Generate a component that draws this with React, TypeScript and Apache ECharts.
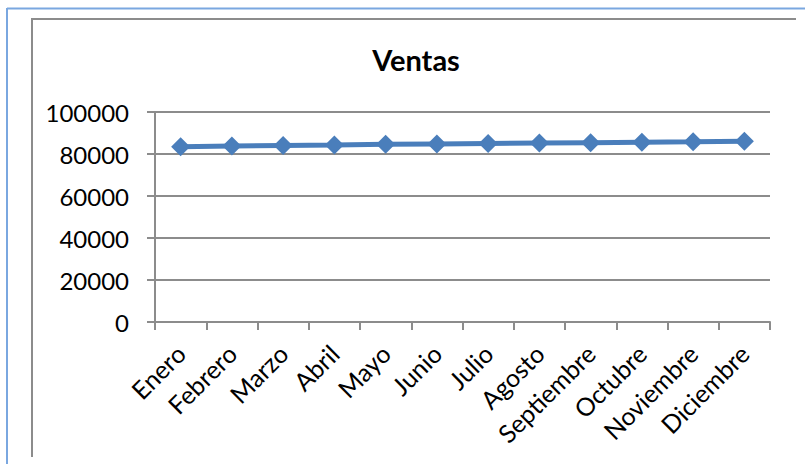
import React, { useEffect, useRef } from "react";
import * as echarts from "echarts";

const months = [
  "Enero", "Febrero", "Marzo", "Abril", "Mayo", "Junio",
  "Julio", "Agosto", "Septiembre", "Octubre", "Noviembre", "Diciembre",
];
const ventas = [83500, 83800, 84100, 84300, 84600, 84800, 85000, 85200, 85400, 85600, 85800, 86100];
const yTicks = { min: 0, max: 100000, interval: 20000 };

const FONT = "Lato, 'Open Sans', sans-serif";

export default function App() {
  const ref = useRef<HTMLDivElement>(null);
  useEffect(() => {
    if (!ref.current) return;
    const chart = echarts.init(ref.current, null, { renderer: "svg" });
    chart.setOption({
      animation: false,
      backgroundColor: "#ffffff",
      title: {
        text: "Ventas",
        left: 411,
        top: 40,
        textAlign: "center",
        textStyle: { fontFamily: FONT, fontSize: 29, fontWeight: "bold", color: "#000" },
      },
      graphic: [
        { type: "line", shape: { x1: 7, y1: 8.5, x2: 805, y2: 8.5 }, style: { stroke: "#7AA7E0", lineWidth: 2 } },
        { type: "line", shape: { x1: 7, y1: 8, x2: 7, y2: 464 }, style: { stroke: "#7AA7E0", lineWidth: 2 } },
        { type: "line", shape: { x1: 32, y1: 19, x2: 796, y2: 19 }, style: { stroke: "#8C8C8C", lineWidth: 2 } },
        { type: "line", shape: { x1: 32, y1: 18, x2: 32, y2: 457 }, style: { stroke: "#8C8C8C", lineWidth: 2 } },
      ],
      grid: { left: 155, right: 35, top: 112, bottom: 142, containLabel: false },
      xAxis: {
        type: "category",
        data: months,
        boundaryGap: true,
        axisLine: { show: true, lineStyle: { color: "#8C8C8C", width: 2 } },
        axisTick: { show: true, length: 8, alignWithLabel: false, lineStyle: { color: "#8C8C8C", width: 2 } },
        axisLabel: {
          interval: 0,
          rotate: 45,
          margin: 27,
          fontFamily: FONT,
          fontSize: 25,
          color: "#000",
        },
      },
      yAxis: {
        type: "value",
        min: yTicks.min,
        max: yTicks.max,
        interval: yTicks.interval,
        axisLine: { show: true, lineStyle: { color: "#8C8C8C", width: 2 } },
        axisTick: { show: true, length: 8, lineStyle: { color: "#8C8C8C", width: 2 } },
        axisLabel: {
          margin: 26,
          fontFamily: FONT,
          fontSize: 24,
          color: "#000",
          formatter: (v: number) => String(v),
        },
        splitLine: { show: true, lineStyle: { color: "#8C8C8C", width: 2 } },
      },
      series: [
        {
          type: "line",
          data: ventas,
          symbol: "diamond",
          symbolSize: 19,
          lineStyle: { color: "#4A7EBB", width: 5 },
          itemStyle: { color: "#4A7EBB" },
        },
      ],
    });
    return () => chart.dispose();
  }, []);
  return <div ref={ref} style={{ position: "fixed", left: 0, top: 0, width: 805, height: 464 }} />;
}
